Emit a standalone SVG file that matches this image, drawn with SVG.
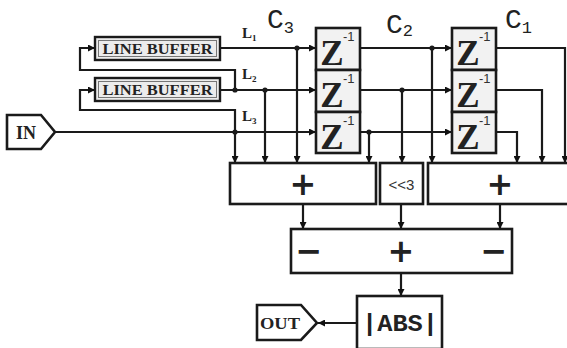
<svg xmlns="http://www.w3.org/2000/svg" width="567" height="348" viewBox="0 0 567 348">
<defs>
<marker id="arr" viewBox="0 0 8 8" refX="8" refY="4" markerWidth="7" markerHeight="7" orient="auto" markerUnits="userSpaceOnUse"><path d="M0,0 L8,4 L0,8 z" fill="#111"/></marker>
<style>
.w{fill:none;stroke:#1a1a1a;stroke-width:2.2}
.a{marker-end:url(#arr)}
.box{fill:#fff;stroke:#1a1a1a;stroke-width:2.6}
.zc{fill:#f2f2f2;stroke:#1a1a1a;stroke-width:2.6}
.lb{fill:#ececec;stroke:#1a1a1a;stroke-width:2.4}
.lbi{fill:none;stroke:#777;stroke-width:1}
.dot{fill:#1a1a1a}
.mono{font-family:"Liberation Mono","DejaVu Sans Mono",monospace;font-weight:bold;fill:#222}
.cl{font-family:"Liberation Mono","DejaVu Sans Mono",monospace;font-weight:normal;font-size:28px;fill:#222}
.z{font-family:"Liberation Serif","DejaVu Serif",serif;font-weight:bold;font-size:35px;text-anchor:middle;fill:#222}
.sup{font-family:"Liberation Sans",Arial,sans-serif;font-size:13px;fill:#333}
.op{font-family:"DejaVu Sans",sans-serif;font-weight:bold;font-size:32px;text-anchor:middle;fill:#222}
.lab{font-family:"Liberation Serif","DejaVu Serif",serif;fill:#222}
</style>
</defs>

<g id="connectors">
<path class="w a" d="M220,48 H316"/>
<path class="w a" d="M297,48 V163"/>
<path class="w a" d="M235,90 V70 H80 V48 H95"/>
<path class="w a" d="M220,90 H316"/>
<path class="w a" d="M265,90 V163"/>
<path class="w a" d="M235,132 V110 H80 V90 H95"/>
<path class="w a" d="M55,132 H316"/>
<path class="w a" d="M235,132 V163"/>
<path class="w a" d="M360,48 H452"/>
<path class="w a" d="M432,48 V163"/>
<path class="w a" d="M360,90 H452"/>
<path class="w a" d="M402,90 V163"/>
<path class="w a" d="M360,132 H452"/>
<path class="w a" d="M369,132 V163"/>
<path class="w a" d="M496,48 H565 V163"/>
<path class="w a" d="M496,90 H542 V163"/>
<path class="w a" d="M496,132 H517 V163"/>
<path class="w a" d="M303,204 V229"/>
<path class="w a" d="M401,204 V229"/>
<path class="w a" d="M500,204 V229"/>
<path class="w a" d="M401,273 V296"/>
<path class="w a" d="M357,323 H318"/>
<circle class="dot" cx="297" cy="48" r="2.6"/>
<circle class="dot" cx="235" cy="90" r="2.6"/>
<circle class="dot" cx="265" cy="90" r="2.6"/>
<circle class="dot" cx="235" cy="132" r="2.6"/>
<circle class="dot" cx="432" cy="48" r="2.6"/>
<circle class="dot" cx="402" cy="90" r="2.6"/>
<circle class="dot" cx="369" cy="132" r="2.6"/>
</g>

<g id="labels">
<text class="lab" x="242" y="38" font-size="15" font-weight="bold">L<tspan font-size="9" dy="3">1</tspan></text>
<text class="lab" x="242" y="79" font-size="15" font-weight="bold">L<tspan font-size="9" dy="3">2</tspan></text>
<text class="lab" x="242" y="121" font-size="15" font-weight="bold">L<tspan font-size="9" dy="3">3</tspan></text>
<text class="cl" x="267" y="28">C<tspan font-size="17" dy="5">3</tspan></text>
<text class="cl" x="386" y="33">C<tspan font-size="17" dy="3">2</tspan></text>
<text class="cl" x="505" y="28">C<tspan font-size="17" dy="5">1</tspan></text>
</g>

<g id="in">
<polygon class="box" points="7,115 41,115 55,132 41,149 7,149"/>
<text class="lab" x="26" y="139" font-size="18" font-weight="bold" text-anchor="middle">IN</text>
</g>

<g id="linebuffer1">
<rect class="lb" x="95" y="37" width="125" height="23"/>
<rect class="lbi" x="98.5" y="40.5" width="118" height="16"/>
<text class="lab" x="157.5" y="53.5" font-size="14" font-weight="bold" text-anchor="middle" textLength="110" lengthAdjust="spacingAndGlyphs">LINE BUFFER</text>
</g>
<g id="linebuffer2">
<rect class="lb" x="95" y="78" width="125" height="23"/>
<rect class="lbi" x="98.5" y="81.5" width="118" height="16"/>
<text class="lab" x="157.5" y="94.5" font-size="14" font-weight="bold" text-anchor="middle" textLength="110" lengthAdjust="spacingAndGlyphs">LINE BUFFER</text>
</g>

<g id="delays-c3">
<rect class="zc" x="316" y="28" width="44" height="42"/>
<rect class="zc" x="316" y="70" width="44" height="42"/>
<rect class="zc" x="316" y="112" width="44" height="41"/>
<text class="z" x="332" y="65">Z</text>
<text class="sup" x="343" y="41">-1</text>
<text class="z" x="332" y="107">Z</text>
<text class="sup" x="343" y="83">-1</text>
<text class="z" x="332" y="149">Z</text>
<text class="sup" x="343" y="125">-1</text>
</g>

<g id="delays-c1">
<rect class="zc" x="452" y="28" width="44" height="42"/>
<rect class="zc" x="452" y="70" width="44" height="42"/>
<rect class="zc" x="452" y="112" width="44" height="41"/>
<text class="z" x="468" y="65">Z</text>
<text class="sup" x="479" y="41">-1</text>
<text class="z" x="468" y="107">Z</text>
<text class="sup" x="479" y="83">-1</text>
<text class="z" x="468" y="149">Z</text>
<text class="sup" x="479" y="125">-1</text>
</g>

<g id="adder-left">
<rect class="box" x="230" y="163" width="146" height="41"/>
<text class="op" x="303" y="195">+</text>
</g>
<g id="shift">
<rect class="box" x="380" y="163" width="43" height="41"/>
<text x="401.5" y="190" font-family="Liberation Sans, Arial, sans-serif" font-size="15" text-anchor="middle" fill="#333">&lt;&lt;3</text>
</g>
<g id="adder-right">
<rect class="box" x="428" y="163" width="150" height="41"/>
<text class="op" x="500" y="195">+</text>
</g>

<g id="subtractor">
<rect class="box" x="291" y="229" width="221" height="44"/>
<text class="op" x="309" y="262">−</text>
<text class="op" x="401" y="262">+</text>
<text class="op" x="494" y="262">−</text>
</g>

<g id="abs">
<rect class="box" x="357" y="296" width="85" height="53"/>
<text class="mono" x="400" y="331" font-size="24" text-anchor="middle" textLength="76" lengthAdjust="spacingAndGlyphs">|ABS|</text>
</g>

<g id="out">
<polygon class="box" points="257,305 301,305 317,323 301,340 257,340"/>
<text class="lab" x="280" y="329" font-size="17" font-weight="bold" text-anchor="middle" textLength="40" lengthAdjust="spacingAndGlyphs">OUT</text>
</g>
</svg>
